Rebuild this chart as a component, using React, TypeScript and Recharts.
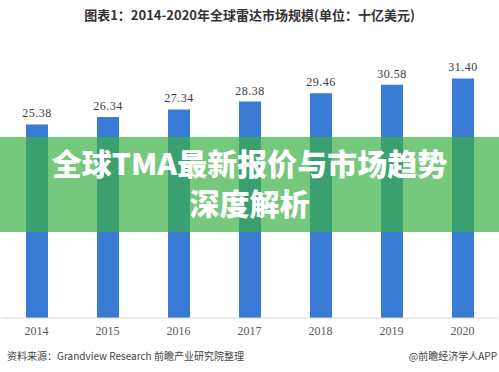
import React from 'react';
import { BarChart, Bar, XAxis, YAxis, LabelList } from 'recharts';

const years = ['2014', '2015', '2016', '2017', '2018', '2019', '2020'];
const marketSize = [25.38, 26.34, 27.34, 28.38, 29.46, 30.58, 31.4];

const data = years.map((year, i) => ({ year, value: marketSize[i] }));

const cjk = '"Noto Sans CJK SC", "Noto Sans", sans-serif';

const App: React.FC = () => {
  return (
    <div style={{ position: 'absolute', left: 0, top: 0, width: 499, height: 372, background: '#fff', overflow: 'hidden' }}>
      <div
        style={{
          position: 'absolute', top: 5, left: 0, width: 499, textAlign: 'center',
          fontFamily: cjk, fontSize: 13, fontWeight: 'bold', color: '#333', lineHeight: '20px',
        }}
      >
        图表1：2014-2020年全球雷达市场规模(单位：十亿美元)
      </div>

      <BarChart width={499} height={372} data={data} margin={{ top: 51, right: 1, bottom: 24, left: 1 }}>
        <XAxis
          dataKey="year"
          tickLine={false}
          axisLine={{ stroke: '#d9d9d9' }}
          tick={{ fontSize: 12, fill: '#595959', fontFamily: '"Liberation Serif", serif' }}
        />
        <YAxis hide domain={[0, 35]} />
        <Bar dataKey="value" fill="#3a7bd5" barSize={22} isAnimationActive={false}>
          <LabelList
            dataKey="value"
            position="top"
            offset={7}
            formatter={(v: number) => v.toFixed(2)}
            style={{ fontSize: 12, fill: '#404040', fontFamily: '"Liberation Serif", serif', letterSpacing: 0.5 }}
          />
        </Bar>
      </BarChart>

      <div
        style={{
          position: 'absolute', left: 0, top: 137, width: 499, height: 95,
          background: 'rgba(58,176,69,0.7)',
        }}
      />
      <div
        style={{
          position: 'absolute', left: 0, top: 142, width: 499, textAlign: 'center',
          fontFamily: cjk, fontSize: 30, fontWeight: 900, color: '#fff', lineHeight: '40px',
        }}
      >
        全球TMA最新报价与市场趋势
        <br />
        深度解析
      </div>

      <div
        style={{
          position: 'absolute', left: 7, top: 347, fontFamily: cjk, fontSize: 10, color: '#444', lineHeight: '18px',
        }}
      >
        资料来源：Grandview Research 前瞻产业研究院整理
      </div>
      <div
        style={{
          position: 'absolute', right: 2, top: 347, fontFamily: cjk, fontSize: 10, color: '#444', lineHeight: '18px',
        }}
      >
        @前瞻经济学人APP
      </div>
    </div>
  );
};

export default App;
